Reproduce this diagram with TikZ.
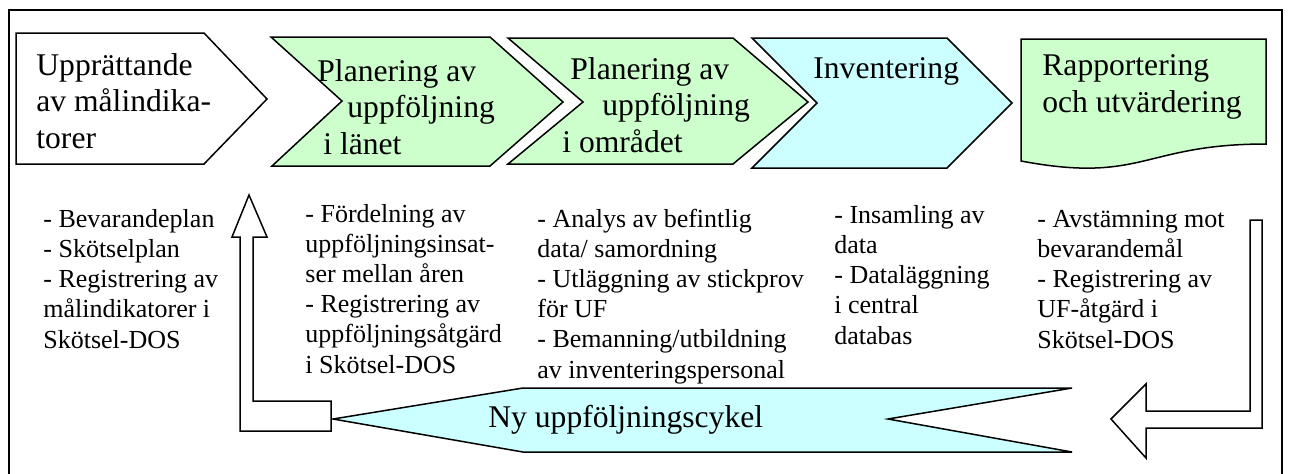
\documentclass[tikz,border=0pt]{standalone}
\usepackage{fontspec}
\setmainfont{Liberation Serif}
\usetikzlibrary{positioning}

\definecolor{stagegreen}{HTML}{CCFFCC}
\definecolor{stagecyan}{HTML}{CCFFFF}

\begin{document}
\begin{tikzpicture}[
	x=0.5pt,
	y=-0.5pt,
	stage/.style={
		draw=black,
		line width=0.75pt,
		line join=miter,
		fill=white
		},
	greenstage/.style={
		fill=stagegreen
	},
	cyanstage/.style={
		fill=stagecyan
	},
	title/.style={
		anchor=base west,
		inner sep=0pt,
		align=left,
		font=\fontsize{15.8}{18.25}\selectfont
	},
	notes/.style={
		anchor=base west,
		inner sep=0pt,
		align=left,
		font=\fontsize{13}{15.1}\selectfont
	}
]
\useasboundingbox (0,0) rectangle (1290,473);

% Frame
\draw[line width=1pt] (9,480) -- (9,10) -- (1282,10) -- (1282,480);

% Stages
\draw[stage] (16,33) -- (204,33) -- (267,99) -- (204,164) -- (16,164) -- cycle;
\draw[stage, greenstage] (271,37) -- (490,37) -- (563,102) -- (490,166) -- (272,166) -- (342,101) -- cycle;
\draw[stage, greenstage] (508,38) -- (733,38) -- (808,102) -- (733,164) -- (508,164) -- (583,102) -- cycle;
\draw[stage, cyanstage] (752,38) -- (947,38) -- (1012,103) -- (947,168) -- (752,168) -- (817,103) -- cycle;
\draw[stage, greenstage] (1021,39) -- (1266,39) -- (1266,144)
	.. controls (1143,144) and (1143,184) .. (1021,161) -- cycle;

% Stage titles (base = last line)
\node[title] (Upprattande) at (36,148) {Upprättande\\av målindika-\\torer};
\node[title] (Planering lan) at (317,154) {Planering av\\\hspace*{15pt}uppföljning\\\hspace*{3pt}i länet};
\node[title] (Planering omrade) at (562,152) {\hspace*{4pt}Planering av\\\hspace*{20pt}uppföljning\\i området};
\node[title] (Inventering) at (813,78) {Inventering};
\node[title] (Rapportering) at (1042,112) {Rapportering\\och utvärdering};

% Notes
\node[notes] (Notes 1) at (43,348) {- Bevarandeplan\\- Skötselplan\\- Registrering av\\målindikatorer i\\Skötsel-DOS};
\node[notes] (Notes 2) at (305,373) {- Fördelning av\\uppföljningsinsat-\\ser mellan åren\\- Registrering av\\uppföljningsåtgärd\\i Skötsel-DOS};
\node[notes] (Notes 3) at (537,378) {- Analys av befintlig\\data/ samordning\\- Utläggning av stickprov\\för UF\\- Bemanning/utbildning\\av inventeringspersonal};
\node[notes] (Notes 4) at (834,344) {- Insamling av\\data\\- Dataläggning\\i central\\databas};
\node[notes] (Notes 5) at (1037,348) {- Avstämning mot\\bevarandemål\\- Registrering av\\UF-åtgärd i\\Skötsel-DOS};

% New cycle
\draw[stage] (1250,220) -- (1262,220) -- (1262,428) -- (1146,428) -- (1146,458)
	-- (1111,419) -- (1146,384) -- (1146,411) -- (1250,411) -- cycle;
\draw[stage, cyanstage] (333,419) -- (523,388) -- (1072,388) -- (888,419) -- (1072,452) -- (523,452) -- cycle;
\node[title] (Ny cykel) at (488,427) {Ny uppföljningscykel};
\draw[stage] (331,401) -- (331,431) -- (240,431) -- (240,237) -- (232,237)
	-- (249,195) -- (267,237) -- (253,237) -- (253,401) -- cycle;

\end{tikzpicture}
\end{document}
